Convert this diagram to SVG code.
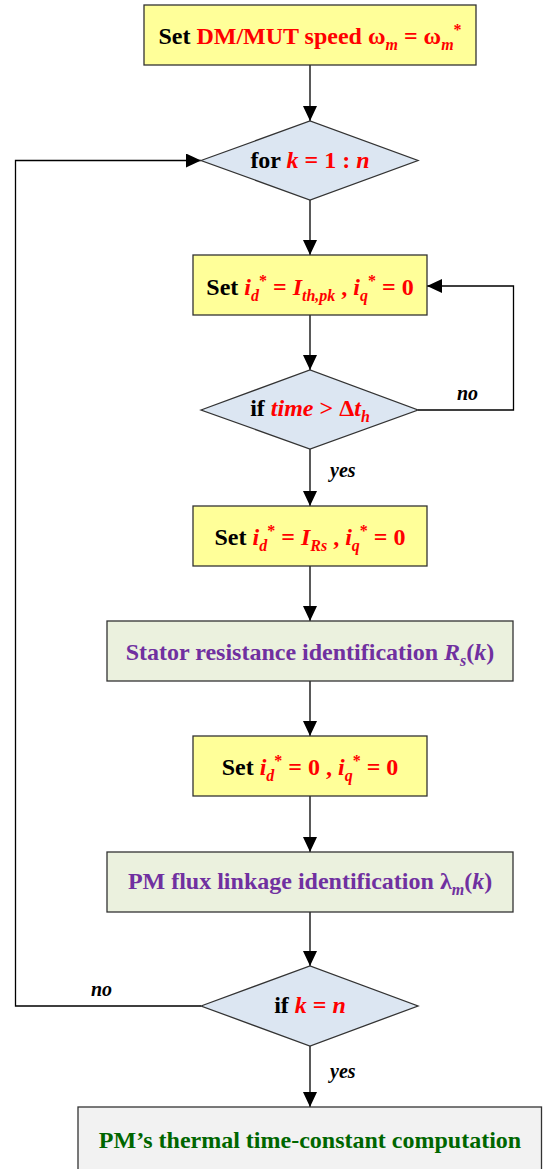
<svg xmlns="http://www.w3.org/2000/svg" width="552" height="1169" viewBox="0 0 552 1169">
<style>
.t{font-family:"Liberation Serif","Times New Roman",serif;font-weight:bold;font-size:24px;text-anchor:middle}
.lbl{font-family:"Liberation Serif","Times New Roman",serif;font-weight:bold;font-style:italic;font-size:20px;fill:#000}
.r{fill:#FF0000}
.k{fill:#000}
.i{font-style:italic}
.s{font-size:16px}
.box{stroke:#333;stroke-width:1.3}
.y{fill:#FFFF99}
.g{fill:#EBF1DE}
.w{fill:#F2F2F2}
.d{fill:#DCE6F2;stroke:#333;stroke-width:1.3}
.c{fill:none;stroke:#000;stroke-width:1.3}
</style>
<defs>
<marker id="ah" markerUnits="userSpaceOnUse" markerWidth="16" markerHeight="14" refX="15" refY="7" orient="auto">
<path d="M0,0 L15,7 L0,14 z" fill="#000"/>
</marker>
</defs>

<g id="connectors">
<line class="c" x1="310" y1="65" x2="310" y2="121" marker-end="url(#ah)"/>
<line class="c" x1="310" y1="200" x2="310" y2="255" marker-end="url(#ah)"/>
<line class="c" x1="310" y1="315" x2="310" y2="370" marker-end="url(#ah)"/>
<line class="c" x1="310" y1="449" x2="310" y2="506" marker-end="url(#ah)"/>
<line class="c" x1="310" y1="566" x2="310" y2="621" marker-end="url(#ah)"/>
<line class="c" x1="310" y1="681" x2="310" y2="736" marker-end="url(#ah)"/>
<line class="c" x1="310" y1="796" x2="310" y2="852" marker-end="url(#ah)"/>
<line class="c" x1="310" y1="912" x2="310" y2="966" marker-end="url(#ah)"/>
<line class="c" x1="310" y1="1046" x2="310" y2="1107" marker-end="url(#ah)"/>
<polyline class="c" points="418,410 513.5,410 513.5,286 427,286" marker-end="url(#ah)"/>
<polyline class="c" points="201,1006 15.5,1006 15.5,160.5 201,160.5" marker-end="url(#ah)"/>
<text class="lbl" x="457" y="400">no</text>
<text class="lbl" x="330" y="477">yes</text>
<text class="lbl" x="91" y="996">no</text>
<text class="lbl" x="330" y="1078">yes</text>
</g>

<g id="n1">
<rect class="box y" x="144" y="5" width="332" height="60"/>
<text class="t" x="310" y="44"><tspan class="k">Set </tspan><tspan class="r">DM/MUT speed ω</tspan><tspan class="r i s" dy="6">m</tspan><tspan class="r" dy="-6"> = ω</tspan><tspan class="r i s" dy="6">m</tspan><tspan class="r s" dy="-15">*</tspan></text>
</g>

<g id="n2">
<polygon class="d" points="201,160.5 310,121 418,160.5 310,200"/>
<text class="t" x="310" y="168"><tspan class="k">for </tspan><tspan class="r i">k</tspan><tspan class="r"> = 1 : </tspan><tspan class="r i">n</tspan></text>
</g>

<g id="n3">
<rect class="box y" x="193" y="255" width="234" height="60"/>
<text class="t" x="310" y="295"><tspan class="k">Set </tspan><tspan class="r i">i</tspan><tspan class="r i s" dy="6">d</tspan><tspan class="r s" dy="-15">*</tspan><tspan class="r" dy="9"> = </tspan><tspan class="r i">I</tspan><tspan class="r i s" dy="6">th,pk</tspan><tspan class="r" dy="-6"> , </tspan><tspan class="r i">i</tspan><tspan class="r i s" dy="6">q</tspan><tspan class="r s" dy="-15">*</tspan><tspan class="r" dy="9"> = 0</tspan></text>
</g>

<g id="n4">
<polygon class="d" points="201,410 310,370 418,410 310,449"/>
<text class="t" x="310" y="416"><tspan class="k">if </tspan><tspan class="r i">time</tspan><tspan class="r"> &gt; Δ</tspan><tspan class="r i">t</tspan><tspan class="r i s" dy="6">h</tspan></text>
</g>

<g id="n5">
<rect class="box y" x="193" y="506" width="234" height="60"/>
<text class="t" x="310" y="545"><tspan class="k">Set </tspan><tspan class="r i">i</tspan><tspan class="r i s" dy="6">d</tspan><tspan class="r s" dy="-15">*</tspan><tspan class="r" dy="9"> = </tspan><tspan class="r i">I</tspan><tspan class="r i s" dy="6">Rs</tspan><tspan class="r" dy="-6"> , </tspan><tspan class="r i">i</tspan><tspan class="r i s" dy="6">q</tspan><tspan class="r s" dy="-15">*</tspan><tspan class="r" dy="9"> = 0</tspan></text>
</g>

<g id="n6">
<rect class="box g" x="107" y="621" width="406" height="60"/>
<text class="t" x="310" y="660" fill="#7030A0"><tspan>Stator resistance identification </tspan><tspan class="i">R</tspan><tspan class="i s" dy="6">s</tspan><tspan dy="-6">(</tspan><tspan class="i">k</tspan><tspan>)</tspan></text>
</g>

<g id="n7">
<rect class="box y" x="193" y="736" width="234" height="60"/>
<text class="t" x="310" y="775"><tspan class="k">Set </tspan><tspan class="r i">i</tspan><tspan class="r i s" dy="6">d</tspan><tspan class="r s" dy="-15">*</tspan><tspan class="r" dy="9"> = 0 , </tspan><tspan class="r i">i</tspan><tspan class="r i s" dy="6">q</tspan><tspan class="r s" dy="-15">*</tspan><tspan class="r" dy="9"> = 0</tspan></text>
</g>

<g id="n8">
<rect class="box g" x="107" y="852" width="406" height="60"/>
<text class="t" x="310" y="889" fill="#7030A0"><tspan>PM flux linkage identification λ</tspan><tspan class="i s" dy="6">m</tspan><tspan dy="-6">(</tspan><tspan class="i">k</tspan><tspan>)</tspan></text>
</g>

<g id="n9">
<polygon class="d" points="201,1006 310,966 418,1006 310,1046"/>
<text class="t" x="310" y="1013"><tspan class="k">if </tspan><tspan class="r i">k</tspan><tspan class="r"> = </tspan><tspan class="r i">n</tspan></text>
</g>

<g id="n10">
<rect class="box w" x="78" y="1107" width="463.5" height="75"/>
<text class="t" x="310" y="1148" fill="#006600">PM’s thermal time-constant computation</text>
</g>
</svg>
